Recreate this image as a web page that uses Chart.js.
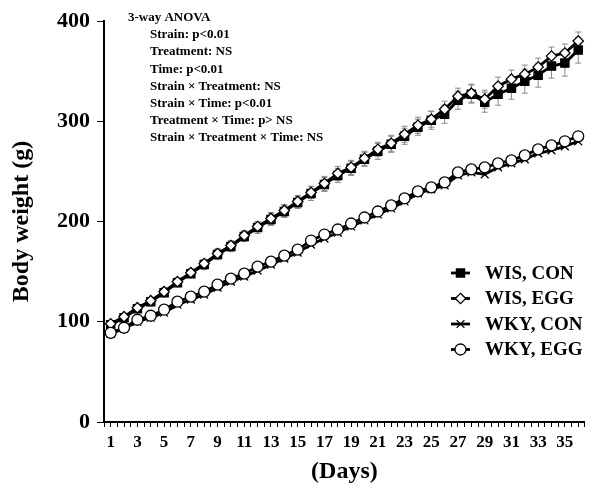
<!DOCTYPE html>
<html lang="en">
<head>
    <meta charset="UTF-8">
    <title>Body weight</title>
    <style>
        body {
            margin: 0;
            background: #ffffff;
        }
        canvas {
            display: block;
        }
    </style>
    <script src="https://cdn.jsdelivr.net/npm/chart.js"></script>
</head>
<body>
<canvas id="myChart" width="592" height="490"></canvas>
<script>
    let days = [];
    for (let d = 1; d <= 36; d++) {
        days.push(d);
    }

    let wisCon = [97, 104, 113, 120, 129, 139, 148, 157, 167, 175, 185, 194, 202, 210, 219, 228, 237, 246,
        253, 262, 270, 277, 285, 294, 301, 307, 321, 327, 319, 327, 333, 340, 346, 355, 358, 371];
    let wisEgg = [98, 105, 114, 121, 130, 140, 149, 158, 168, 176, 186, 195, 203, 211, 220, 229, 238, 248,
        254, 263, 272, 278, 287, 296, 302, 312, 325, 328, 322, 335, 342, 347, 354, 365, 368, 380];
    let wkyCon = [88, 93, 100, 104, 109, 117, 122, 127, 134, 140, 145, 151, 157, 163, 169, 177, 183, 189,
        195, 201, 207, 213, 220, 228, 232, 236, 246, 249, 247, 254, 258, 262, 268, 271, 275, 280];
    let wkyEgg = [89, 94, 102, 106, 112, 120, 125, 130, 137, 143, 148, 155, 160, 166, 172, 181, 187, 192,
        198, 204, 210, 216, 223, 230, 234, 239, 249, 252, 254, 258, 261, 266, 272, 276, 280, 285];

    // error bars (only visible on the WIS groups)
    let wisConErr = [3, 3, 3, 4, 4, 4, 4, 5, 5, 5, 5, 6, 6, 6, 6, 7, 7, 7,
        7, 7, 8, 8, 8, 8, 9, 9, 9, 9, 10, 11, 11, 12, 12, 12, 13, 13];
    let wisEggErr = [3, 3, 3, 3, 4, 4, 4, 4, 5, 5, 5, 5, 6, 6, 6, 6, 7, 7,
        7, 7, 7, 8, 8, 8, 8, 8, 8, 9, 9, 9, 9, 9, 9, 9, 9, 9];

    let yTicks = [0, 100, 200, 300, 400];

    let anovaTitle = '3-way ANOVA';
    let anovaLines = [
        'Strain: p<0.01',
        'Treatment: NS',
        'Time: p<0.01',
        'Strain \u00d7 Treatment: NS',
        'Strain \u00d7 Time: p<0.01',
        'Treatment \u00d7 Time: p> NS',
        'Strain \u00d7 Treatment \u00d7 Time: NS'
    ];

    let serif = "'Liberation Serif', 'Times New Roman', serif";

    function toPoints(values) {
        return days.map((d, i) => ({x: d, y: values[i]}));
    }

    function drawMarker(ctx, style, x, y, r, fill) {
        ctx.save();
        ctx.beginPath();
        if (style === 'rect') {
            let s = r * Math.SQRT1_2;
            ctx.rect(x - s, y - s, 2 * s, 2 * s);
        } else if (style === 'rectRot') {
            ctx.moveTo(x, y - r);
            ctx.lineTo(x + r, y);
            ctx.lineTo(x, y + r);
            ctx.lineTo(x - r, y);
            ctx.closePath();
        } else if (style === 'crossRot') {
            let s = r * Math.SQRT1_2;
            ctx.moveTo(x - s, y - s);
            ctx.lineTo(x + s, y + s);
            ctx.moveTo(x - s, y + s);
            ctx.lineTo(x + s, y - s);
        } else {
            ctx.arc(x, y, r, 0, Math.PI * 2);
        }
        if (style !== 'crossRot') {
            ctx.fillStyle = fill;
            ctx.fill();
        }
        ctx.strokeStyle = '#000';
        ctx.lineWidth = 1.3;
        ctx.stroke();
        ctx.restore();
    }

    let errorBars = {
        id: 'errorBars',
        beforeDatasetsDraw(chart) {
            let ctx = chart.ctx;
            let xs = chart.scales.x;
            let ys = chart.scales.y;
            let sets = [[wisCon, wisConErr], [wisEgg, wisEggErr]];
            ctx.save();
            ctx.strokeStyle = '#8a8a8a';
            ctx.lineWidth = 1;
            sets.forEach(([vals, errs]) => {
                vals.forEach((v, i) => {
                    let px = xs.getPixelForValue(days[i]);
                    let top = ys.getPixelForValue(v + errs[i]);
                    let bot = ys.getPixelForValue(v - errs[i]);
                    ctx.beginPath();
                    ctx.moveTo(px, top);
                    ctx.lineTo(px, bot);
                    ctx.moveTo(px - 3, top);
                    ctx.lineTo(px + 3, top);
                    ctx.moveTo(px - 3, bot);
                    ctx.lineTo(px + 3, bot);
                    ctx.stroke();
                });
            });
            ctx.restore();
        }
    };

    let notes = {
        id: 'notes',
        afterDraw(chart) {
            let ctx = chart.ctx;
            let area = chart.chartArea;
            ctx.save();
            ctx.fillStyle = '#000';
            ctx.textBaseline = 'middle';
            ctx.font = 'bold 13px ' + serif;
            ctx.fillText(anovaTitle, area.left + 24, 18);
            anovaLines.forEach((t, i) => {
                ctx.fillText(t, area.left + 46, 35 + i * 17.1);
            });

            // legend
            let order = [0, 1, 2, 3];
            ctx.font = 'bold 19px ' + serif;
            order.forEach((idx, row) => {
                let ds = chart.data.datasets[idx];
                let y = 273 + row * 25.5;
                ctx.beginPath();
                ctx.moveTo(451, y);
                ctx.lineTo(470, y);
                ctx.strokeStyle = '#000';
                ctx.lineWidth = 2.8;
                ctx.stroke();
                drawMarker(ctx, ds.pointStyle, 460.5, y, ds.pointRadius, ds.pointBackgroundColor);
                ctx.fillStyle = '#000';
                ctx.fillText(ds.label, 485, y + 1);
            });
            ctx.restore();
        }
    };

    Chart.defaults.font.family = serif;
    Chart.defaults.font.weight = 'bold';
    Chart.defaults.color = '#000';

    let ctx = document.getElementById('myChart').getContext('2d');
    let myChart = new Chart(ctx, {
        type: 'line',
        data: {
            datasets: [{
                label: 'WIS, CON',
                data: toPoints(wisCon),
                pointStyle: 'rect',
                pointRadius: 5.8,
                pointBackgroundColor: '#000',
                order: 4
            }, {
                label: 'WIS, EGG',
                data: toPoints(wisEgg),
                pointStyle: 'rectRot',
                pointRadius: 5.2,
                pointBackgroundColor: '#fff',
                order: 3
            }, {
                label: 'WKY, CON',
                data: toPoints(wkyCon),
                pointStyle: 'crossRot',
                pointRadius: 5.5,
                pointBackgroundColor: '#fff',
                order: 2
            }, {
                label: 'WKY, EGG',
                data: toPoints(wkyEgg),
                pointStyle: 'circle',
                pointRadius: 5.5,
                pointBackgroundColor: '#fff',
                order: 1
            }].map(ds => Object.assign({
                borderColor: '#000',
                borderWidth: 2.8,
                pointBorderColor: '#000',
                pointBorderWidth: 1.3,
                tension: 0,
                fill: false
            }, ds))
        },
        options: {
            responsive: false,
            animation: false,
            devicePixelRatio: 1,
            layout: {
                padding: {top: 21, right: 0, left: 0, bottom: 0}
            },
            plugins: {
                legend: {display: false},
                tooltip: {enabled: false}
            },
            scales: {
                x: {
                    type: 'linear',
                    min: 0.5,
                    max: 36.5,
                    afterFit(scale) {
                        scale.height = 68;
                    },
                    afterBuildTicks(scale) {
                        let t = [];
                        for (let v = 0.5; v <= 36.5; v += 0.5) {
                            t.push({value: v});
                        }
                        scale.ticks = t;
                    },
                    ticks: {
                        autoSkip: false,
                        maxRotation: 0,
                        padding: 5,
                        font: {size: 17, weight: 'bold'},
                        callback: v => (Number.isInteger(v) && v % 2 === 1 && v < 36) ? String(v) : ''
                    },
                    grid: {
                        drawOnChartArea: false,
                        tickLength: 5,
                        color: '#000'
                    },
                    border: {color: '#000', width: 2},
                    title: {
                        display: true,
                        text: '(Days)',
                        font: {size: 24, weight: 'bold'},
                        padding: {top: 0, bottom: 4}
                    }
                },
                y: {
                    min: 0,
                    max: 400,
                    afterFit(scale) {
                        scale.width = 104;
                    },
                    afterBuildTicks(scale) {
                        scale.ticks = yTicks.map(v => ({value: v}));
                    },
                    ticks: {
                        padding: 7,
                        font: {size: 22, weight: 'bold'}
                    },
                    grid: {
                        drawOnChartArea: false,
                        tickLength: 7,
                        color: '#000'
                    },
                    border: {color: '#000', width: 2},
                    title: {
                        display: true,
                        text: 'Body weight (g)',
                        font: {size: 24, weight: 'bold'},
                        padding: {top: 7, bottom: 0}
                    }
                }
            }
        },
        plugins: [errorBars, notes]
    });
</script>
</body>
</html>
